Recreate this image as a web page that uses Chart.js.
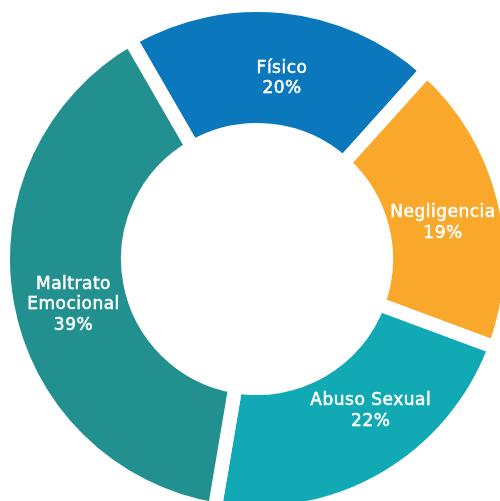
<!DOCTYPE html>
<html>
<head>
<meta charset="utf-8">
<script src="https://cdn.jsdelivr.net/npm/chart.js@4"></script>
<style>
  html, body { margin: 0; padding: 0; background: #fff; overflow: hidden; width: 500px; height: 501px; }
  #wrap { position: absolute; left: -4px; top: -2px; width: 522px; height: 522px; }
</style>
</head>
<body>
<div id="wrap"><canvas id="donut" width="522" height="522"></canvas></div>
<script>
const categories = ["Físico", "Negligencia", "Abuso Sexual", "Maltrato Emocional"];
const labelLines = [["Físico"], ["Negligencia"], ["Abuso Sexual"], ["Maltrato", "Emocional"]];
const percentages = [20, 19, 22, 39];
const sliceColors = ["#0b78bd", "#f9a82b", "#11a9b3", "#22908e"];

// small nudges so the labels sit where the original put them
const labelNudge = [[5, 10], [0, 10], [18, -14], [5, 12]];

const sliceLabels = {
  id: "sliceLabels",
  afterDatasetsDraw(chart) {
    const ctx = chart.ctx;
    const arcs = chart.getDatasetMeta(0).data;
    ctx.save();
    ctx.fillStyle = "#ffffff";
    ctx.font = "17px 'DejaVu Sans'";
    ctx.letterSpacing = "0.5px";
    ctx.textAlign = "center";
    ctx.textBaseline = "middle";
    ctx.strokeStyle = "#ffffff";
    ctx.lineWidth = 0.5;
    const lineH = 20.5;
    arcs.forEach((arc, i) => {
      const p = arc.tooltipPosition();
      const lines = labelLines[i].concat([percentages[i] + "%"]);
      const x = p.x + labelNudge[i][0];
      const y0 = p.y + labelNudge[i][1] - (lines.length - 1) * lineH / 2;
      lines.forEach((t, k) => {
        ctx.fillText(t, x, y0 + k * lineH);
        ctx.strokeText(t, x, y0 + k * lineH);
      });
    });
    ctx.restore();
  }
};

new Chart(document.getElementById("donut"), {
  type: "doughnut",
  data: {
    labels: categories,
    datasets: [{
      data: percentages,
      backgroundColor: sliceColors,
      borderColor: "#ffffff",
      borderWidth: 14,
      borderJoinStyle: "miter",
      hoverOffset: 0
    }]
  },
  options: {
    responsive: false,
    animation: false,
    cutout: "50.8%",
    rotation: -30,
    layout: { padding: 0 },
    plugins: {
      legend: { display: false },
      tooltip: { enabled: false }
    },
    events: []
  },
  plugins: [sliceLabels]
});
</script>
</body>
</html>
